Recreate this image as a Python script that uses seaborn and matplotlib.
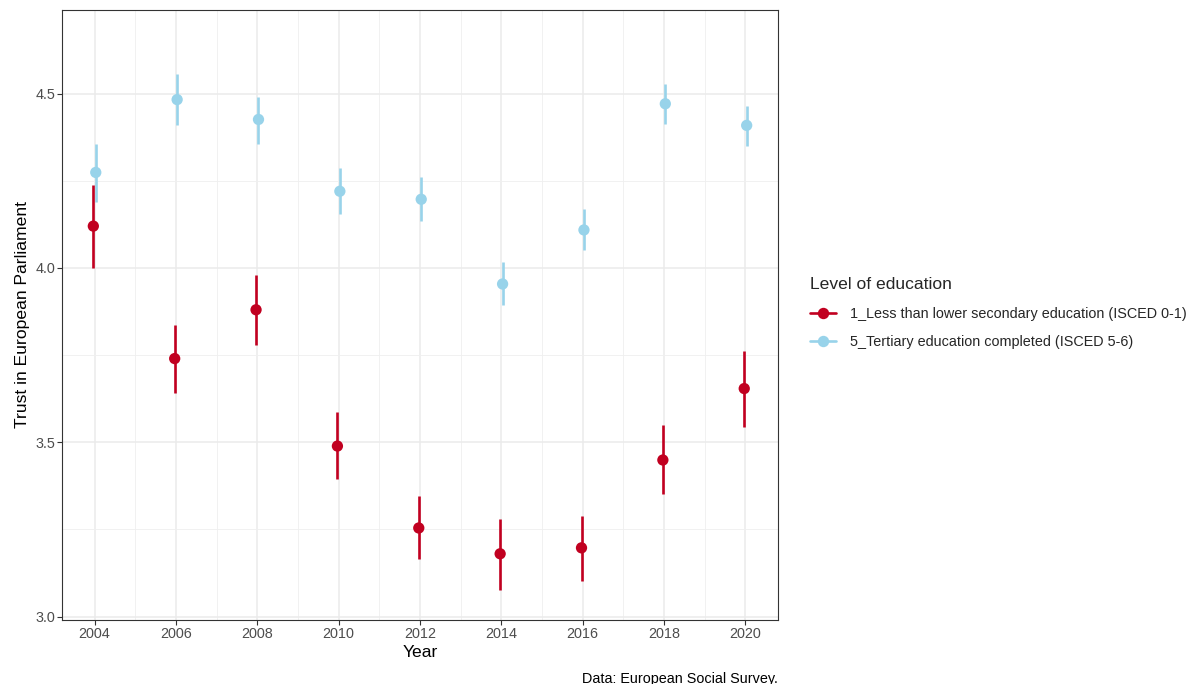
import matplotlib
matplotlib.use("Agg")
import matplotlib.pyplot as plt
from matplotlib.lines import Line2D
from matplotlib.ticker import MultipleLocator
import seaborn as sns
import pandas as pd

years = [2004, 2006, 2008, 2010, 2012, 2014, 2016, 2018, 2020]
groups = ["1_Less than lower secondary education (ISCED 0-1)",
          "5_Tertiary education completed (ISCED 5-6)"]
low_mean = [4.12, 3.74, 3.88, 3.489, 3.254, 3.18, 3.197, 3.449, 3.654]
low_lo = [4.00, 3.64, 3.78, 3.394, 3.166, 3.077, 3.103, 3.351, 3.543]
low_hi = [4.237, 3.837, 3.98, 3.586, 3.346, 3.28, 3.289, 3.549, 3.763]
high_mean = [4.274, 4.483, 4.426, 4.22, 4.197, 3.954, 4.109, 4.471, 4.409]
high_lo = [4.19, 4.411, 4.357, 4.154, 4.134, 3.894, 4.051, 4.414, 4.351]
high_hi = [4.357, 4.557, 4.491, 4.286, 4.26, 4.017, 4.169, 4.529, 4.466]

colors = {groups[0]: "#C10020", groups[1]: "#98D3EA"}
dodge = {groups[0]: -0.03, groups[1]: 0.03}

df = pd.concat([
    pd.DataFrame({"year": years, "mean": low_mean, "lo": low_lo, "hi": low_hi, "group": groups[0]}),
    pd.DataFrame({"year": years, "mean": high_mean, "lo": high_lo, "hi": high_hi, "group": groups[1]}),
], ignore_index=True)
df["x"] = df["year"] + df["group"].map(dodge)

sns.set_theme(style="white")
plt.rcParams["font.family"] = ["Liberation Sans", "DejaVu Sans"]

fig = plt.figure(figsize=(11.93, 6.84), dpi=100)
ax = fig.add_axes([62 / 1193, 1 - 620 / 684, (778 - 62) / 1193, (620 - 10) / 684])

for g in groups:
    sub = df[df["group"] == g]
    ax.vlines(sub["x"], sub["lo"], sub["hi"], color=colors[g], lw=1.9, zorder=3)
sns.scatterplot(data=df, x="x", y="mean", hue="group", palette=colors, s=66,
                edgecolor="none", legend=False, ax=ax, zorder=4)

ax.set_xlim(2003.2, 2020.8)
ax.set_ylim(2.99, 4.74)
ax.set_xticks(years)
ax.set_xticklabels([str(y) for y in years])
ax.xaxis.set_minor_locator(MultipleLocator(1))
ax.set_yticks([3.0, 3.5, 4.0, 4.5])
ax.set_yticklabels(["3.0", "3.5", "4.0", "4.5"])
ax.yaxis.set_minor_locator(MultipleLocator(0.25))
ax.grid(True, which="major", color="#EBEBEB", lw=1.1, zorder=0)
ax.grid(True, which="minor", color="#EFEFEF", lw=0.6, zorder=0)
ax.set_axisbelow(True)
for s in ax.spines.values():
    s.set_color("#333333")
    s.set_linewidth(0.8)
ax.tick_params(axis="both", which="major", length=3.5, width=0.8, color="#333333",
               labelsize=10.4, labelcolor="#4D4D4D", pad=1.5, bottom=True, left=True)
ax.tick_params(axis="both", which="minor", length=0)
ax.set_xlabel("Year", fontsize=12.6, color="black", labelpad=3)
ax.set_ylabel("Trust in European Parliament", fontsize=12.6, color="black", labelpad=4)

handles = [Line2D([0], [0], color=colors[g], lw=1.9, marker="o", markersize=8.2,
                  markeredgewidth=0) for g in groups]
leg = fig.legend(handles, groups, title="Level of education", loc="upper left",
                 bbox_to_anchor=(798 / 1193, 1 - 265 / 684), frameon=False,
                 fontsize=10.4, title_fontsize=12.6, handlelength=1.8,
                 labelspacing=0.95, handletextpad=1.0, borderpad=0.3)
leg._legend_box.align = "left"
leg._legend_box.sep = 11

fig.text(778 / 1193, 1 - 683 / 684, "Data: European Social Survey.", ha="right",
         va="baseline", fontsize=10.4, color="black")

fig.savefig("out.png", dpi=100)
